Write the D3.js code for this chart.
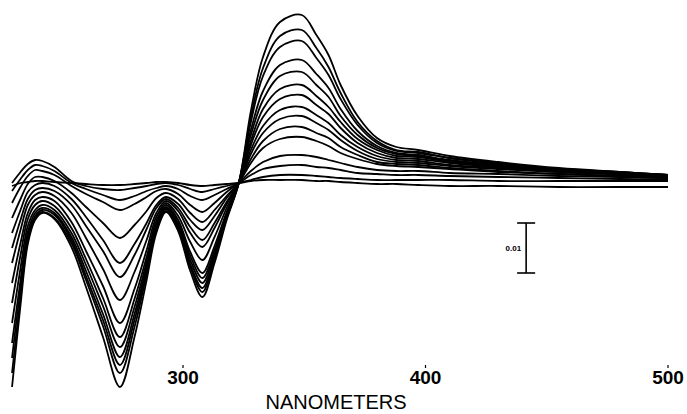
<!DOCTYPE html>
<html lang="en">
<head>
<meta charset="UTF-8">
<title>Difference spectra</title>
<script src="https://cdnjs.cloudflare.com/ajax/libs/d3/7.8.5/d3.min.js"></script>
<style>
  body { margin: 0; background: #fff; }
  svg { display: block; }
  text { font-family: "Liberation Sans", Arial, sans-serif; fill: #000; }
</style>
</head>
<body>
<svg width="687" height="414"></svg>
<script>
// wavelengths (nm) shared by every trace
const wavelengths = [229.5, 233, 236, 239, 242, 247, 254, 260, 267, 274, 280, 285, 289, 293, 298, 303, 308, 313, 318, 323,
                     328, 333, 340, 349, 355, 360, 365, 372, 380, 388, 397, 410, 430, 455, 480, 500];

// difference absorbance, in units of 1e-4 A, one array per trace (flattest first)
const trace0  = [-6, 0, 2, 4, 4, 2, 0, -2, -4, -4, -2, 0, 2, 2, 0, -4, -6, -4, -2, 0, 4, 6, 6, 6, 4, 4, 2, 0, -2, -2, -4, -6, -6, -8, -8, -8];
const trace1  = [0, 22, 38, 46, 44, 32, 4, -6, -12, -14, -10, -6, -2, 0, -4, -12, -18, -12, -6, 0, 6, 12, 16, 16, 14, 12, 10, 8, 6, 6, 6, 6, 4, 4, 4, 4];
const trace2  = [-16, 8, 26, 36, 34, 24, 0, -12, -24, -34, -26, -16, -10, -6, -12, -26, -34, -24, -12, 0, 16, 28, 34, 36, 32, 30, 26, 20, 18, 16, 16, 14, 12, 10, 8, 8];
const trace3  = [-40, -8, 14, 26, 24, 16, -6, -22, -38, -54, -42, -28, -16, -12, -22, -44, -58, -40, -18, 0, 24, 42, 54, 56, 52, 46, 40, 32, 26, 24, 24, 20, 18, 14, 12, 10];
const trace4  = [-70, -32, -2, 12, 12, 4, -20, -48, -80, -110, -84, -56, -30, -20, -32, -60, -78, -54, -26, 0, 40, 70, 88, 92, 84, 74, 60, 48, 38, 34, 32, 28, 22, 18, 14, 12];
const trace5  = [-100, -54, -18, -4, 0, -6, -32, -68, -114, -160, -122, -80, -44, -28, -42, -74, -94, -66, -30, 0, 48, 84, 108, 112, 100, 90, 72, 56, 42, 38, 36, 30, 24, 18, 14, 12];
const trace6  = [-130, -74, -32, -14, -10, -16, -44, -86, -136, -188, -144, -92, -50, -32, -50, -88, -114, -80, -38, 0, 58, 100, 128, 134, 120, 106, 86, 64, 48, 42, 40, 34, 28, 22, 18, 14];
const trace7  = [-160, -94, -44, -24, -18, -26, -60, -110, -172, -234, -178, -114, -60, -36, -56, -100, -128, -90, -42, 0, 66, 114, 146, 152, 136, 120, 96, 72, 54, 46, 44, 36, 30, 22, 18, 14];
const trace8  = [-200, -120, -60, -34, -28, -36, -78, -136, -206, -280, -212, -134, -68, -40, -66, -118, -154, -108, -50, 0, 76, 132, 168, 176, 156, 138, 110, 80, 60, 50, 48, 40, 32, 24, 18, 14];
const trace9  = [-240, -144, -72, -44, -36, -46, -90, -152, -230, -308, -232, -148, -76, -44, -74, -138, -180, -126, -58, 0, 84, 148, 188, 196, 174, 152, 122, 88, 66, 54, 52, 42, 34, 24, 18, 14];
const trace10 = [-280, -170, -86, -54, -44, -54, -100, -164, -246, -328, -248, -158, -82, -48, -80, -146, -190, -134, -62, 0, 96, 166, 214, 222, 196, 172, 134, 96, 70, 58, 54, 44, 36, 26, 20, 16];
const trace11 = [-320, -194, -98, -60, -50, -60, -108, -176, -262, -348, -262, -166, -86, -50, -84, -154, -200, -140, -66, 0, 106, 184, 236, 246, 218, 190, 148, 104, 74, 60, 56, 46, 36, 28, 20, 16];
const trace12 = [-350, -210, -108, -66, -54, -64, -114, -186, -274, -364, -274, -174, -90, -52, -86, -162, -210, -148, -68, 0, 122, 214, 272, 284, 250, 216, 168, 116, 80, 64, 60, 50, 38, 28, 22, 16];
const trace13 = [-380, -228, -116, -70, -58, -70, -120, -194, -286, -380, -288, -182, -94, -56, -92, -168, -218, -152, -70, 0, 132, 230, 294, 306, 270, 232, 180, 122, 84, 66, 62, 50, 40, 28, 22, 16];
const trace14 = [-408, -244, -122, -74, -60, -72, -128, -208, -308, -408, -308, -194, -100, -58, -96, -176, -228, -160, -74, 0, 144, 252, 322, 336, 296, 256, 196, 134, 90, 72, 66, 54, 42, 30, 22, 16];

const traces = [trace0, trace1, trace2, trace3, trace4, trace5, trace6, trace7,
                trace8, trace9, trace10, trace11, trace12, trace13, trace14];

const xTicks = [300, 400, 500];
const xTitle = "NANOMETERS";
const scaleBar = { label: "0.01", from: -80, to: -180, at: 441.5 };  // 0.01 A = 100 units

const svg = d3.select("svg");

const x = d3.scaleLinear().domain([300, 500]).range([183, 668]);
const y = d3.scaleLinear().domain([-420, 360]).range([393, 3]);

const line = d3.line()
    .x((d, i) => x(wavelengths[i]))
    .y(d => y(d))
    .curve(d3.curveCatmullRom.alpha(0.5));

svg.append("g")
    .selectAll("path")
    .data(traces)
    .enter()
    .append("path")
    .attr("d", d => line(d))
    .attr("fill", "none")
    .attr("stroke", "#000")
    .attr("stroke-width", 1.8)
    .attr("stroke-linejoin", "round");

// x axis: only tick labels with a small tick dot, no axis line
const axis = svg.append("g");
axis.selectAll("line")
    .data(xTicks)
    .enter()
    .append("line")
    .attr("x1", d => x(d)).attr("x2", d => x(d))
    .attr("y1", 365).attr("y2", 368)
    .attr("stroke", "#000")
    .attr("stroke-width", 1.2);

axis.selectAll("text")
    .data(xTicks)
    .enter()
    .append("text")
    .attr("x", d => x(d))
    .attr("y", 384)
    .attr("text-anchor", "middle")
    .attr("font-size", 19)
    .attr("font-weight", "bold")
    .text(d => d);

svg.append("text")
    .attr("x", 336)
    .attr("y", 409)
    .attr("text-anchor", "middle")
    .attr("font-size", 20)
    .text(xTitle);

// absorbance scale bar
const bx = x(scaleBar.at);
const bar = svg.append("g").attr("stroke", "#000").attr("stroke-width", 1.6);
bar.append("line").attr("x1", bx).attr("x2", bx).attr("y1", y(scaleBar.from)).attr("y2", y(scaleBar.to));
bar.append("line").attr("x1", bx - 9).attr("x2", bx + 9).attr("y1", y(scaleBar.from)).attr("y2", y(scaleBar.from));
bar.append("line").attr("x1", bx - 9).attr("x2", bx + 9).attr("y1", y(scaleBar.to)).attr("y2", y(scaleBar.to));

svg.append("text")
    .attr("x", bx - 5)
    .attr("y", y((scaleBar.from + scaleBar.to) / 2) + 3)
    .attr("text-anchor", "end")
    .attr("font-size", 8)
    .attr("font-weight", "bold")
    .text(scaleBar.label);
</script>
</body>
</html>
